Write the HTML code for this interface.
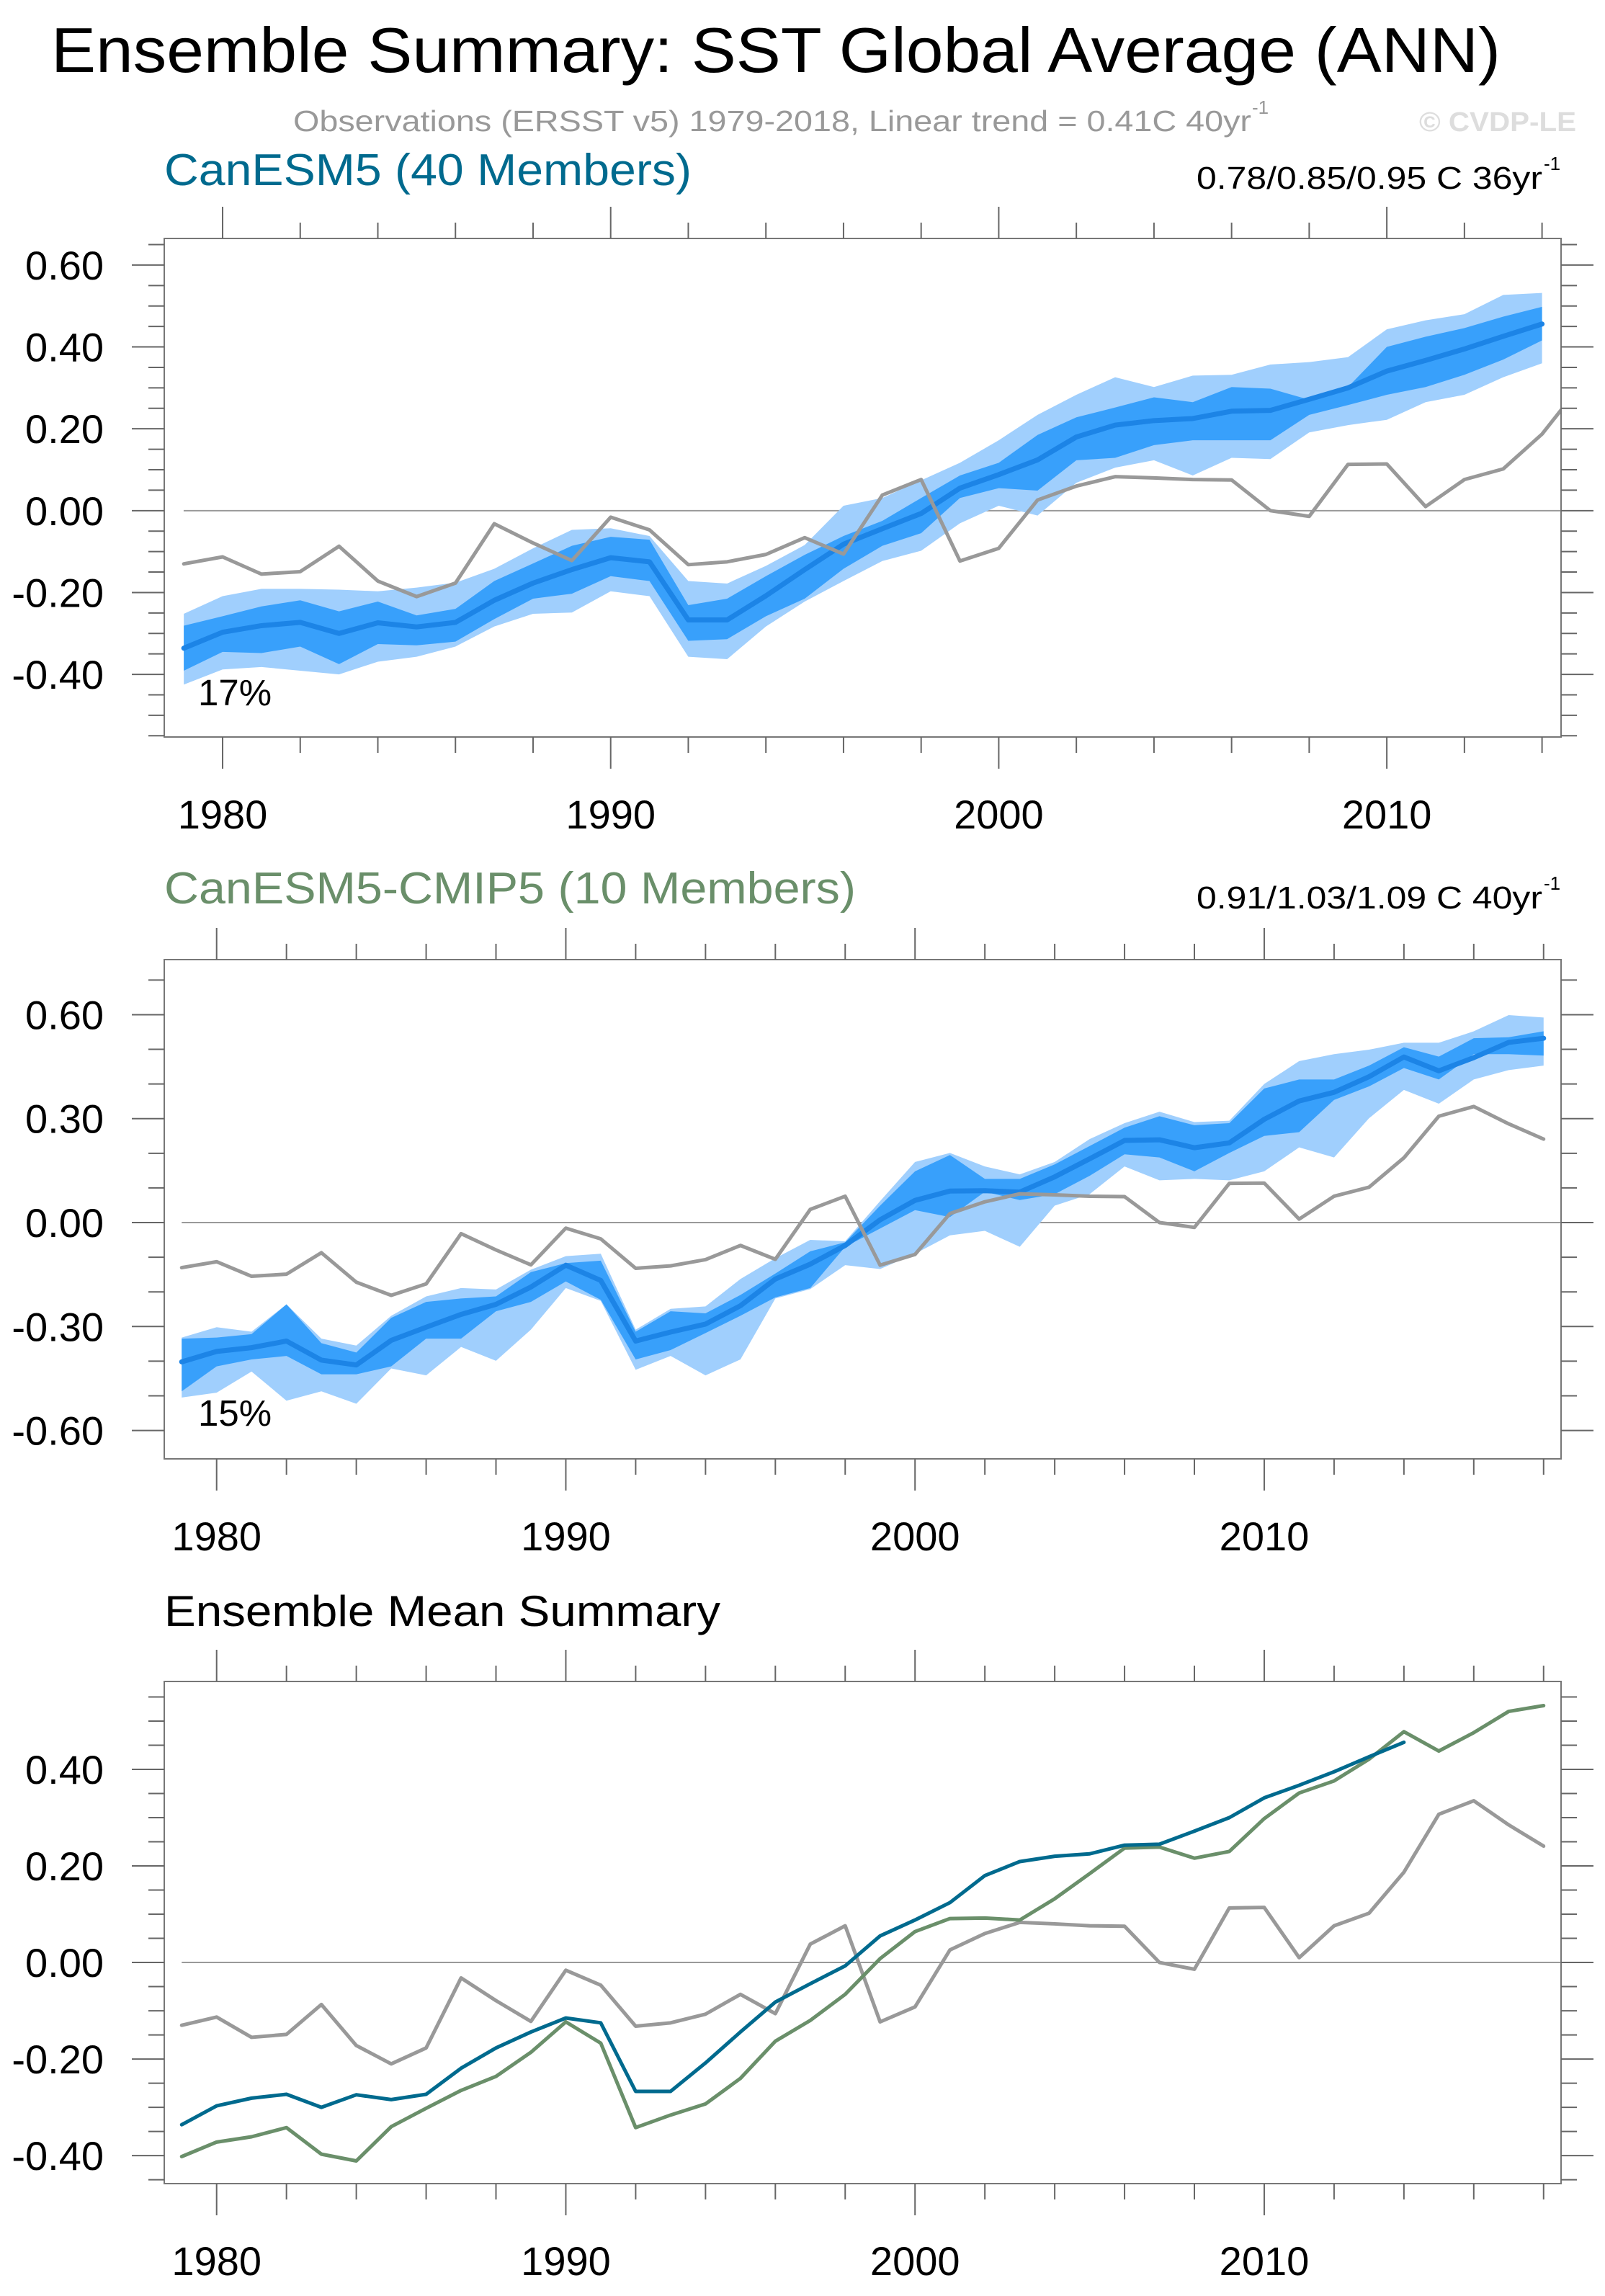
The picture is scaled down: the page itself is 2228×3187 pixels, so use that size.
<!DOCTYPE html>
<html><head><meta charset="utf-8"><style>
html,body{margin:0;padding:0;background:#fff}
svg{display:block;font-family:"Liberation Sans",sans-serif}
</style></head><body>
<svg id="c" width="2228" height="3187" viewBox="0 0 2228 3187" xmlns="http://www.w3.org/2000/svg">
<text x="71" y="100" font-size="88" fill="#000" textLength="2012" lengthAdjust="spacingAndGlyphs">Ensemble Summary: SST Global Average (ANN)</text>
<text x="407" y="182" font-size="41" fill="#999" textLength="1330" lengthAdjust="spacingAndGlyphs">Observations (ERSST v5) 1979-2018, Linear trend = 0.41C 40yr</text>
<text x="1738" y="158" font-size="26" fill="#999">-1</text>
<text x="1970" y="182" font-size="38" font-weight="bold" fill="#ddd" textLength="218" lengthAdjust="spacingAndGlyphs">© CVDP-LE</text>
<text x="228" y="257" font-size="62" fill="#006a8e" textLength="732" lengthAdjust="spacingAndGlyphs">CanESM5 (40 Members)</text>
<text x="1661" y="262" font-size="44" fill="#000" textLength="480" lengthAdjust="spacingAndGlyphs">0.78/0.85/0.95 C 36yr</text>
<text x="2143" y="236" font-size="26" fill="#000">-1</text>
<text x="228" y="1254" font-size="62" fill="#6a8f6a" textLength="960" lengthAdjust="spacingAndGlyphs">CanESM5-CMIP5 (10 Members)</text>
<text x="1661" y="1261" font-size="44" fill="#000" textLength="480" lengthAdjust="spacingAndGlyphs">0.91/1.03/1.09 C 40yr</text>
<text x="2143" y="1235" font-size="26" fill="#000">-1</text>
<text x="228" y="2257" font-size="60" fill="#000" textLength="772" lengthAdjust="spacingAndGlyphs">Ensemble Mean Summary</text>
<text x="275" y="979" font-size="51" fill="#000">17%</text>
<text x="275" y="1979" font-size="51" fill="#000">15%</text>
</svg>
<script>
const obsYears=[1979,1980,1981,1982,1983,1984,1985,1986,1987,1988,1989,1990,1991,1992,1993,1994,1995,1996,1997,1998,1999,2000,2001,2002,2003,2004,2005,2006,2007,2008,2009,2010,2011,2012,2013,2014,2015,2016,2017,2018];
const obsValues=[-0.13,-0.113,-0.155,-0.149,-0.087,-0.172,-0.21,-0.177,-0.032,-0.079,-0.122,-0.016,-0.047,-0.132,-0.125,-0.107,-0.066,-0.106,0.038,0.076,-0.123,-0.092,0.026,0.06,0.083,0.08,0.076,0.075,0.0,-0.014,0.113,0.114,0.01,0.076,0.102,0.187,0.307,0.335,0.285,0.241];
const canYears=obsYears.slice(0,36);
const canMean=[-0.336,-0.297,-0.281,-0.273,-0.30,-0.274,-0.284,-0.273,-0.219,-0.177,-0.144,-0.115,-0.125,-0.267,-0.267,-0.208,-0.144,-0.082,-0.044,-0.007,0.055,0.088,0.124,0.18,0.209,0.22,0.225,0.243,0.245,0.272,0.30,0.341,0.367,0.395,0.426,0.456];
const canMax=[-0.252,-0.209,-0.191,-0.191,-0.193,-0.197,-0.188,-0.176,-0.142,-0.092,-0.047,-0.043,-0.062,-0.172,-0.178,-0.135,-0.084,0.012,0.031,0.074,0.117,0.172,0.234,0.283,0.326,0.302,0.33,0.332,0.357,0.363,0.375,0.443,0.465,0.48,0.527,0.532];
const canP75=[-0.281,-0.258,-0.234,-0.219,-0.246,-0.222,-0.256,-0.24,-0.172,-0.129,-0.086,-0.064,-0.071,-0.231,-0.215,-0.16,-0.108,-0.062,-0.025,0.031,0.086,0.117,0.185,0.228,0.252,0.277,0.265,0.302,0.298,0.271,0.302,0.40,0.425,0.446,0.474,0.498];
const canP25=[-0.391,-0.345,-0.348,-0.332,-0.375,-0.326,-0.329,-0.32,-0.265,-0.215,-0.203,-0.16,-0.172,-0.318,-0.314,-0.258,-0.215,-0.142,-0.086,-0.055,0.031,0.055,0.049,0.123,0.129,0.16,0.172,0.172,0.172,0.234,0.258,0.283,0.302,0.332,0.369,0.416];
const canMin=[-0.425,-0.388,-0.382,-0.391,-0.40,-0.369,-0.357,-0.332,-0.283,-0.252,-0.249,-0.197,-0.209,-0.357,-0.363,-0.283,-0.222,-0.172,-0.123,-0.098,-0.031,0.012,-0.012,0.068,0.105,0.123,0.086,0.129,0.126,0.191,0.209,0.222,0.265,0.283,0.326,0.36];
const cmipYears=obsYears.slice();
const cmipMean=[-0.402,-0.372,-0.361,-0.342,-0.397,-0.411,-0.340,-0.302,-0.265,-0.236,-0.186,-0.123,-0.167,-0.342,-0.316,-0.293,-0.240,-0.163,-0.12,-0.066,0.008,0.064,0.091,0.092,0.088,0.132,0.184,0.237,0.239,0.216,0.23,0.298,0.351,0.376,0.421,0.478,0.438,0.476,0.52,0.532];
const cmipMax=[-0.332,-0.302,-0.315,-0.236,-0.335,-0.355,-0.269,-0.213,-0.189,-0.193,-0.136,-0.097,-0.09,-0.309,-0.249,-0.242,-0.163,-0.103,-0.05,-0.054,0.062,0.175,0.201,0.162,0.139,0.175,0.241,0.287,0.32,0.29,0.294,0.40,0.466,0.486,0.499,0.519,0.519,0.552,0.599,0.592];
const cmipP75=[-0.335,-0.332,-0.322,-0.236,-0.348,-0.375,-0.275,-0.229,-0.219,-0.213,-0.143,-0.117,-0.11,-0.315,-0.256,-0.262,-0.209,-0.147,-0.083,-0.057,0.049,0.148,0.195,0.126,0.126,0.168,0.221,0.274,0.307,0.281,0.287,0.387,0.413,0.413,0.453,0.506,0.479,0.532,0.535,0.552];
const cmipP25=[-0.487,-0.415,-0.395,-0.385,-0.438,-0.438,-0.415,-0.335,-0.335,-0.256,-0.229,-0.17,-0.223,-0.395,-0.368,-0.319,-0.269,-0.216,-0.189,-0.07,-0.017,0.036,0.016,0.089,0.065,0.082,0.135,0.197,0.188,0.148,0.201,0.25,0.261,0.354,0.393,0.446,0.413,0.486,0.486,0.482];
const cmipMin=[-0.505,-0.491,-0.43,-0.514,-0.487,-0.523,-0.421,-0.441,-0.359,-0.399,-0.309,-0.189,-0.226,-0.425,-0.385,-0.441,-0.395,-0.219,-0.192,-0.123,-0.134,-0.09,-0.037,-0.024,-0.07,0.049,0.082,0.162,0.122,0.126,0.122,0.148,0.217,0.188,0.301,0.383,0.343,0.413,0.44,0.453];
const xTickYears=[1980,1990,2000,2010];
const p1TickValues=[-0.4,-0.2,0,0.2,0.4,0.6];
const p1TickLabels=["-0.40","-0.20","0.00","0.20","0.40","0.60"];
const p2TickValues=[-0.6,-0.3,0,0.3,0.6];
const p2TickLabels=["-0.60","-0.30","0.00","0.30","0.60"];
const p3TickValues=[-0.4,-0.2,0,0.2,0.4];
const p3TickLabels=["-0.40","-0.20","0.00","0.20","0.40"];

const NS="http://www.w3.org/2000/svg";
const svg=document.getElementById('c');
function mk(tag,attrs,parent){const e=document.createElementNS(NS,tag);for(const k in attrs)e.setAttribute(k,attrs[k]);(parent||svg).appendChild(e);return e;}

function panel(cfg){
  const g=mk('g',{});
  
  
  const X=v=>cfg.x0+(v-cfg.xmin)/(cfg.xmax-cfg.xmin)*(cfg.x1-cfg.x0);
  const Y=v=>cfg.y1-(v-cfg.ymin)/(cfg.ymax-cfg.ymin)*(cfg.y1-cfg.y0);
  const clip=mk('clipPath',{id:cfg.name+'-clip'},g);
  mk('rect',{x:cfg.x0,y:cfg.y0,width:cfg.x1-cfg.x0,height:cfg.y1-cfg.y0},clip);
  const plot=mk('g',{'clip-path':'url(#'+cfg.name+'-clip)'},g);
  const z=mk('line',{x1:X(cfg.xmin+0.5),x2:cfg.x1,y1:Y(0),y2:Y(0),stroke:'#999','stroke-width':2},plot);
  
  
  function band(yrs,hi,lo,color,name){
    let pts=yrs.map((y,i)=>X(y)+','+Y(hi[i]));
    for(let i=yrs.length-1;i>=0;i--)pts.push(X(yrs[i])+','+Y(lo[i]));
    const p=mk('polygon',{points:pts.join(' '),fill:color},plot);
    
    
  }
  function line(yrs,vals,color,w,name){
    const p=mk('polyline',{points:yrs.map((y,i)=>X(y)+','+Y(vals[i])).join(' '),fill:'none',stroke:color,'stroke-width':w,'stroke-linejoin':'round','stroke-linecap':'round'},plot);
    
    
  }
  cfg.draw(band,line);
  const f=mk('rect',{x:cfg.x0,y:cfg.y0,width:cfg.x1-cfg.x0,height:cfg.y1-cfg.y0,fill:'none',stroke:'#777','stroke-width':2},g);
  
  
  for(let yr=1980;yr<=2018;yr+=2){
    if(yr<cfg.xmin||yr>cfg.xmax)continue;
    const major=yr%10===0, L=major?44:22;
    const x=X(yr);
    const t1=mk('line',{x1:x,x2:x,y1:cfg.y0,y2:cfg.y0-L,stroke:'#666','stroke-width':2},g);
    
    
    const t2=mk('line',{x1:x,x2:x,y1:cfg.y1,y2:cfg.y1+L,stroke:'#666','stroke-width':2},g);
    
    
  }
  xTickYears.forEach(yr=>{
    const t=mk('text',{x:X(yr),y:cfg.xl,'font-size':56,'text-anchor':'middle',fill:'#000'},g);
    t.textContent=String(yr);
    
    
  });
  const n0=Math.ceil(cfg.ymin/cfg.minor-1e-6), n1=Math.floor(cfg.ymax/cfg.minor+1e-6);
  for(let n=n0;n<=n1;n++){
    const v=n*cfg.minor, y=Y(v);
    const major=cfg.ticks.some(t=>Math.abs(t-v)<1e-6), L=major?45:22;
    const a=mk('line',{x1:cfg.x0,x2:cfg.x0-L,y1:y,y2:y,stroke:'#666','stroke-width':2},g);
    
    
    const b=mk('line',{x1:cfg.x1,x2:cfg.x1+L,y1:y,y2:y,stroke:'#666','stroke-width':2},g);
    
    
  }
  cfg.ticks.forEach((v,i)=>{
    const t=mk('text',{x:144,y:Y(v)+20,'font-size':56,'text-anchor':'end',fill:'#000'},g);
    t.textContent=cfg.labels[i];
    
    
  });
}
const LIGHT='#a0cffd', DARK='#38a0fb', MEANC='#1c84e6', OBS='#999999';
panel({name:'canesm5-panel',x0:228,x1:2167,y0:331,y1:1023,xmin:1978.496,xmax:2014.49,ymin:-0.553,ymax:0.665,minor:0.05,ticks:p1TickValues,labels:p1TickLabels,xl:1150,
  draw:(band,line)=>{band(canYears,canMax,canMin,LIGHT,'canesm5-range-band');band(canYears,canP75,canP25,DARK,'canesm5-iqr-band');line(canYears,canMean,MEANC,7,'canesm5-mean-line');line(obsYears,obsValues,OBS,5,'observations-line');}});
panel({name:'cmip5-panel',x0:228,x1:2167,y0:1332,y1:2025,xmin:1978.5,xmax:2018.5,ymin:-0.682,ymax:0.759,minor:0.1,ticks:p2TickValues,labels:p2TickLabels,xl:2152,
  draw:(band,line)=>{band(cmipYears,cmipMax,cmipMin,LIGHT,'cmip5-range-band');band(cmipYears,cmipP75,cmipP25,DARK,'cmip5-iqr-band');line(cmipYears,cmipMean,MEANC,7,'cmip5-mean-line');line(obsYears,obsValues,OBS,5,'observations-line');}});
panel({name:'ensemble-mean-panel',x0:228,x1:2167,y0:2334,y1:3031,xmin:1978.5,xmax:2018.5,ymin:-0.458,ymax:0.582,minor:0.05,ticks:p3TickValues,labels:p3TickLabels,xl:3158,
  draw:(band,line)=>{line(obsYears,obsValues,OBS,5,'observations-line');line(cmipYears,cmipMean,'#6a8f6a',5,'cmip5-mean-line');line(canYears,canMean,'#006a8e',5,'canesm5-mean-line');}});
</script>
</body></html>
